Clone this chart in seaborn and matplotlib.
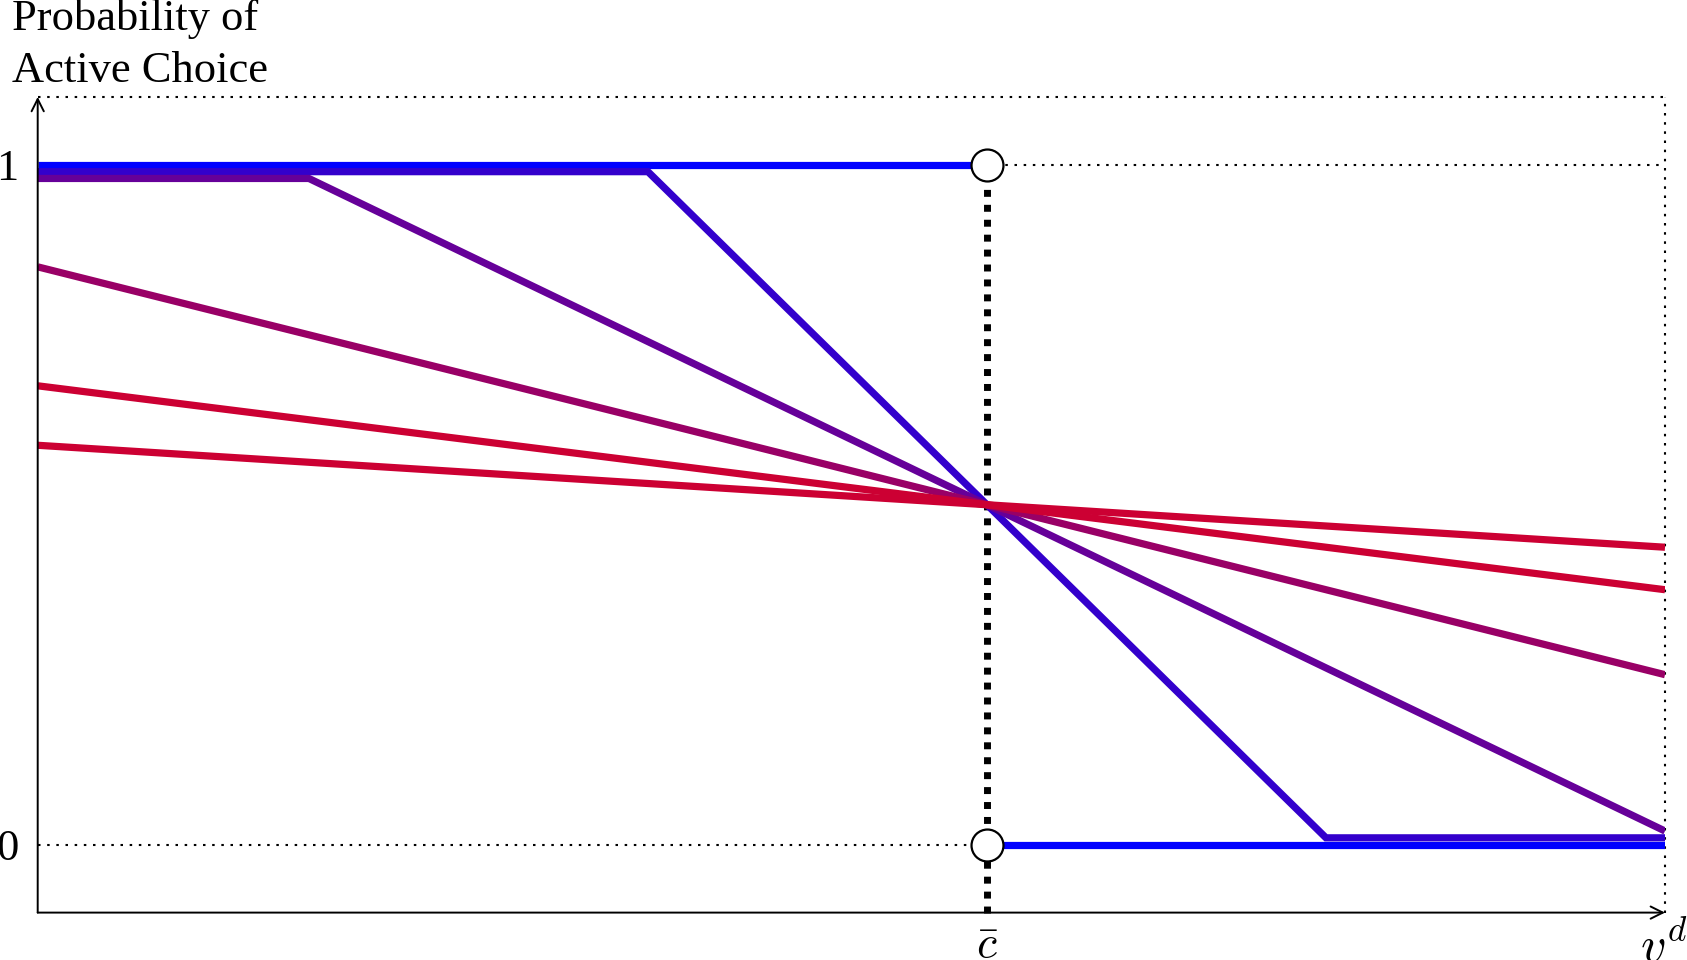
import numpy as np
import pandas as pd
import matplotlib
matplotlib.use("Agg")
import matplotlib.pyplot as plt
import matplotlib.transforms as mtransforms
import seaborn as sns

# ---- data ----
c_bar = 7.0
x_max = 12.0
y_min, y_max = -0.1, 1.1

step_left_x = [0.0, 7.0]
step_left_y = [1.0, 1.0]
step_right_x = [7.0, 12.0]
step_right_y = [0.0, 0.0]

steep_x = [0.0, 4.5, 9.5, 12.0]
steep_y = [0.99, 0.99, 0.01, 0.01]

purple_x = [0.0, 2.0, 12.0]
purple_y = [0.98, 0.98, 0.02]

magenta_x = [0.0, 12.0]
magenta_y = [0.85, 0.25]

crimson1_x = [0.0, 12.0]
crimson1_y = [0.675, 0.375]

crimson2_x = [0.0, 12.0]
crimson2_y = [0.5875, 0.4375]

open_pts_x = [7.0, 7.0]
open_pts_y = [1.0, 0.0]

ytick_vals = [0, 1]
ytick_labels = ["0", "1"]
xtick_vals = [7.0]
xtick_labels = [r"$\bar{c}$"]

# ---- style ----
sns.set_theme(style="white")
plt.rcParams["font.family"] = ["Liberation Serif", "DejaVu Serif"]
plt.rcParams["mathtext.fontset"] = "cm"
plt.rcParams["text.color"] = "black"
plt.rcParams["xtick.color"] = "black"
plt.rcParams["ytick.color"] = "black"

W, H = 1687, 960
fig = plt.figure(figsize=(W / 100, H / 100), dpi=100)
x0, x1 = 37.7, 1665.0
yt, yb = 96.9, 912.6
ax = fig.add_axes([x0 / W, 1 - yb / H, (x1 - x0) / W, (yb - yt) / H])
ax.set_xlim(0, x_max)
ax.set_ylim(y_min, y_max)
for s in ax.spines.values():
    s.set_visible(False)
ax.grid(False)

LW = 5.2
dot = (0, (1.2, 3.2))

# thin dotted guide lines
ax.plot([0, x_max], [y_max, y_max], color="black", lw=1.5, ls=dot, clip_on=False, zorder=1)
ax.plot([x_max, x_max], [y_min, y_max], color="black", lw=1.5, ls=dot, clip_on=False, zorder=1)
ax.plot([c_bar, x_max], [1, 1], color="black", lw=1.5, ls=dot, zorder=1)
ax.plot([0, c_bar], [0, 0], color="black", lw=1.5, ls=dot, zorder=1)

# thick dotted vertical at c_bar
ax.plot([c_bar, c_bar], [y_min, 1], color="black", lw=5.0, ls=(0, (1, 1.15)),
        solid_capstyle="butt", dash_capstyle="butt", clip_on=False, zorder=2)

series = [
    (step_left_x, step_left_y, "#0000FF"),
    (step_right_x, step_right_y, "#0000FF"),
    (steep_x, steep_y, "#3300CC"),
    (purple_x, purple_y, "#660099"),
    (magenta_x, magenta_y, "#990066"),
    (crimson1_x, crimson1_y, "#CC0033"),
    (crimson2_x, crimson2_y, "#CC0033"),
]
for i, (xs, ys, col) in enumerate(series):
    sns.lineplot(x=xs, y=ys, color=col, linewidth=LW, estimator=None, sort=False,
                 ax=ax, zorder=3 + i, solid_capstyle="butt", solid_joinstyle="miter")

sns.scatterplot(x=open_pts_x, y=open_pts_y, s=23 ** 2, color="white",
                edgecolor="black", linewidth=1.6, ax=ax, zorder=20, clip_on=False)

# axes with arrows
arrow = dict(arrowstyle="->", lw=1.4, color="black", shrinkA=0, shrinkB=0, mutation_scale=22)
ax.annotate("", xy=(0, y_max), xytext=(0, y_min), arrowprops=arrow, annotation_clip=False, zorder=25)
ax.annotate("", xy=(x_max, y_min), xytext=(0, y_min), arrowprops=arrow, annotation_clip=False, zorder=25)

ax.set_yticks(ytick_vals, ytick_labels, fontsize=32)
ax.set_xticks(xtick_vals, xtick_labels, fontsize=33)
ax.tick_params(axis="both", length=0, colors="black")
ax.tick_params(axis="y", pad=14)
ax.tick_params(axis="x", pad=9)
ax.set_xlabel("")
ax.set_ylabel("")

vd = ax.text(x_max, y_min, r"$v^d$", fontsize=36, ha="left", va="top",
             color="black", clip_on=False)
vd.set_transform(ax.transData + mtransforms.ScaledTranslation(-25 / 100, -10 / 100, fig.dpi_scale_trans))

fig.text(12 / W, 1 - 30 / H, "Probability of", fontsize=32, ha="left", va="baseline", color="black")
fig.text(12 / W, 1 - 82 / H, "Active Choice", fontsize=32, ha="left", va="baseline", color="black")

fig.savefig("out.png", dpi=100, facecolor="white")
